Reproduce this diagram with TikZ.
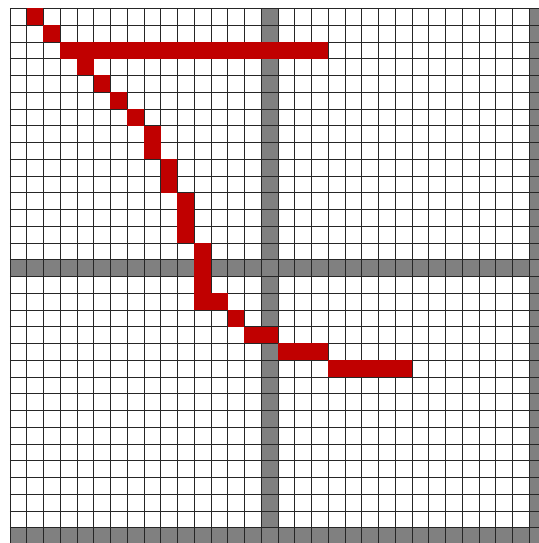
\documentclass[tikz,border=0pt]{standalone}
\definecolor{cellred}{RGB}{192,0,0}
\definecolor{band}{RGB}{128,128,128}
\tikzset{
  gridline/.style={draw=black!85, line width=0.55pt},
  bandcell/.style={fill=band},
  redcell/.style={fill=cellred}
}
\begin{document}
\begin{tikzpicture}[x=0.5cm,y=-0.5cm]
\useasboundingbox (-0.597,-0.5) rectangle (31.58,31.92);
\clip (-0.597,-0.5) rectangle (31.58,31.92);
% grey bands
\fill[bandcell] (15,0) rectangle (16,32);
\fill[bandcell] (0,15) rectangle (32,16);
\fill[bandcell] (31,0) rectangle (32,32);
\fill[bandcell] (0,31) rectangle (32,32);
% grid
\foreach \i in {0,...,32} {
  \draw[gridline] (\i,0) -- (\i,32);
  \draw[gridline] (0,\i) -- (32,\i);
}
% red path
\foreach \c/\r/\w/\h in {1/0/1/1, 2/1/1/1, 3/2/16/1, 4/3/1/1, 5/4/1/1, 6/5/1/1,
  7/6/1/1, 8/7/1/2, 9/9/1/2, 10/11/1/3, 11/14/1/4, 12/17/1/1, 13/18/1/1,
  14/19/2/1, 16/20/3/1, 19/21/5/1}
  \fill[redcell] (\c,\r) rectangle ++(\w,\h);
\end{tikzpicture}
\end{document}
